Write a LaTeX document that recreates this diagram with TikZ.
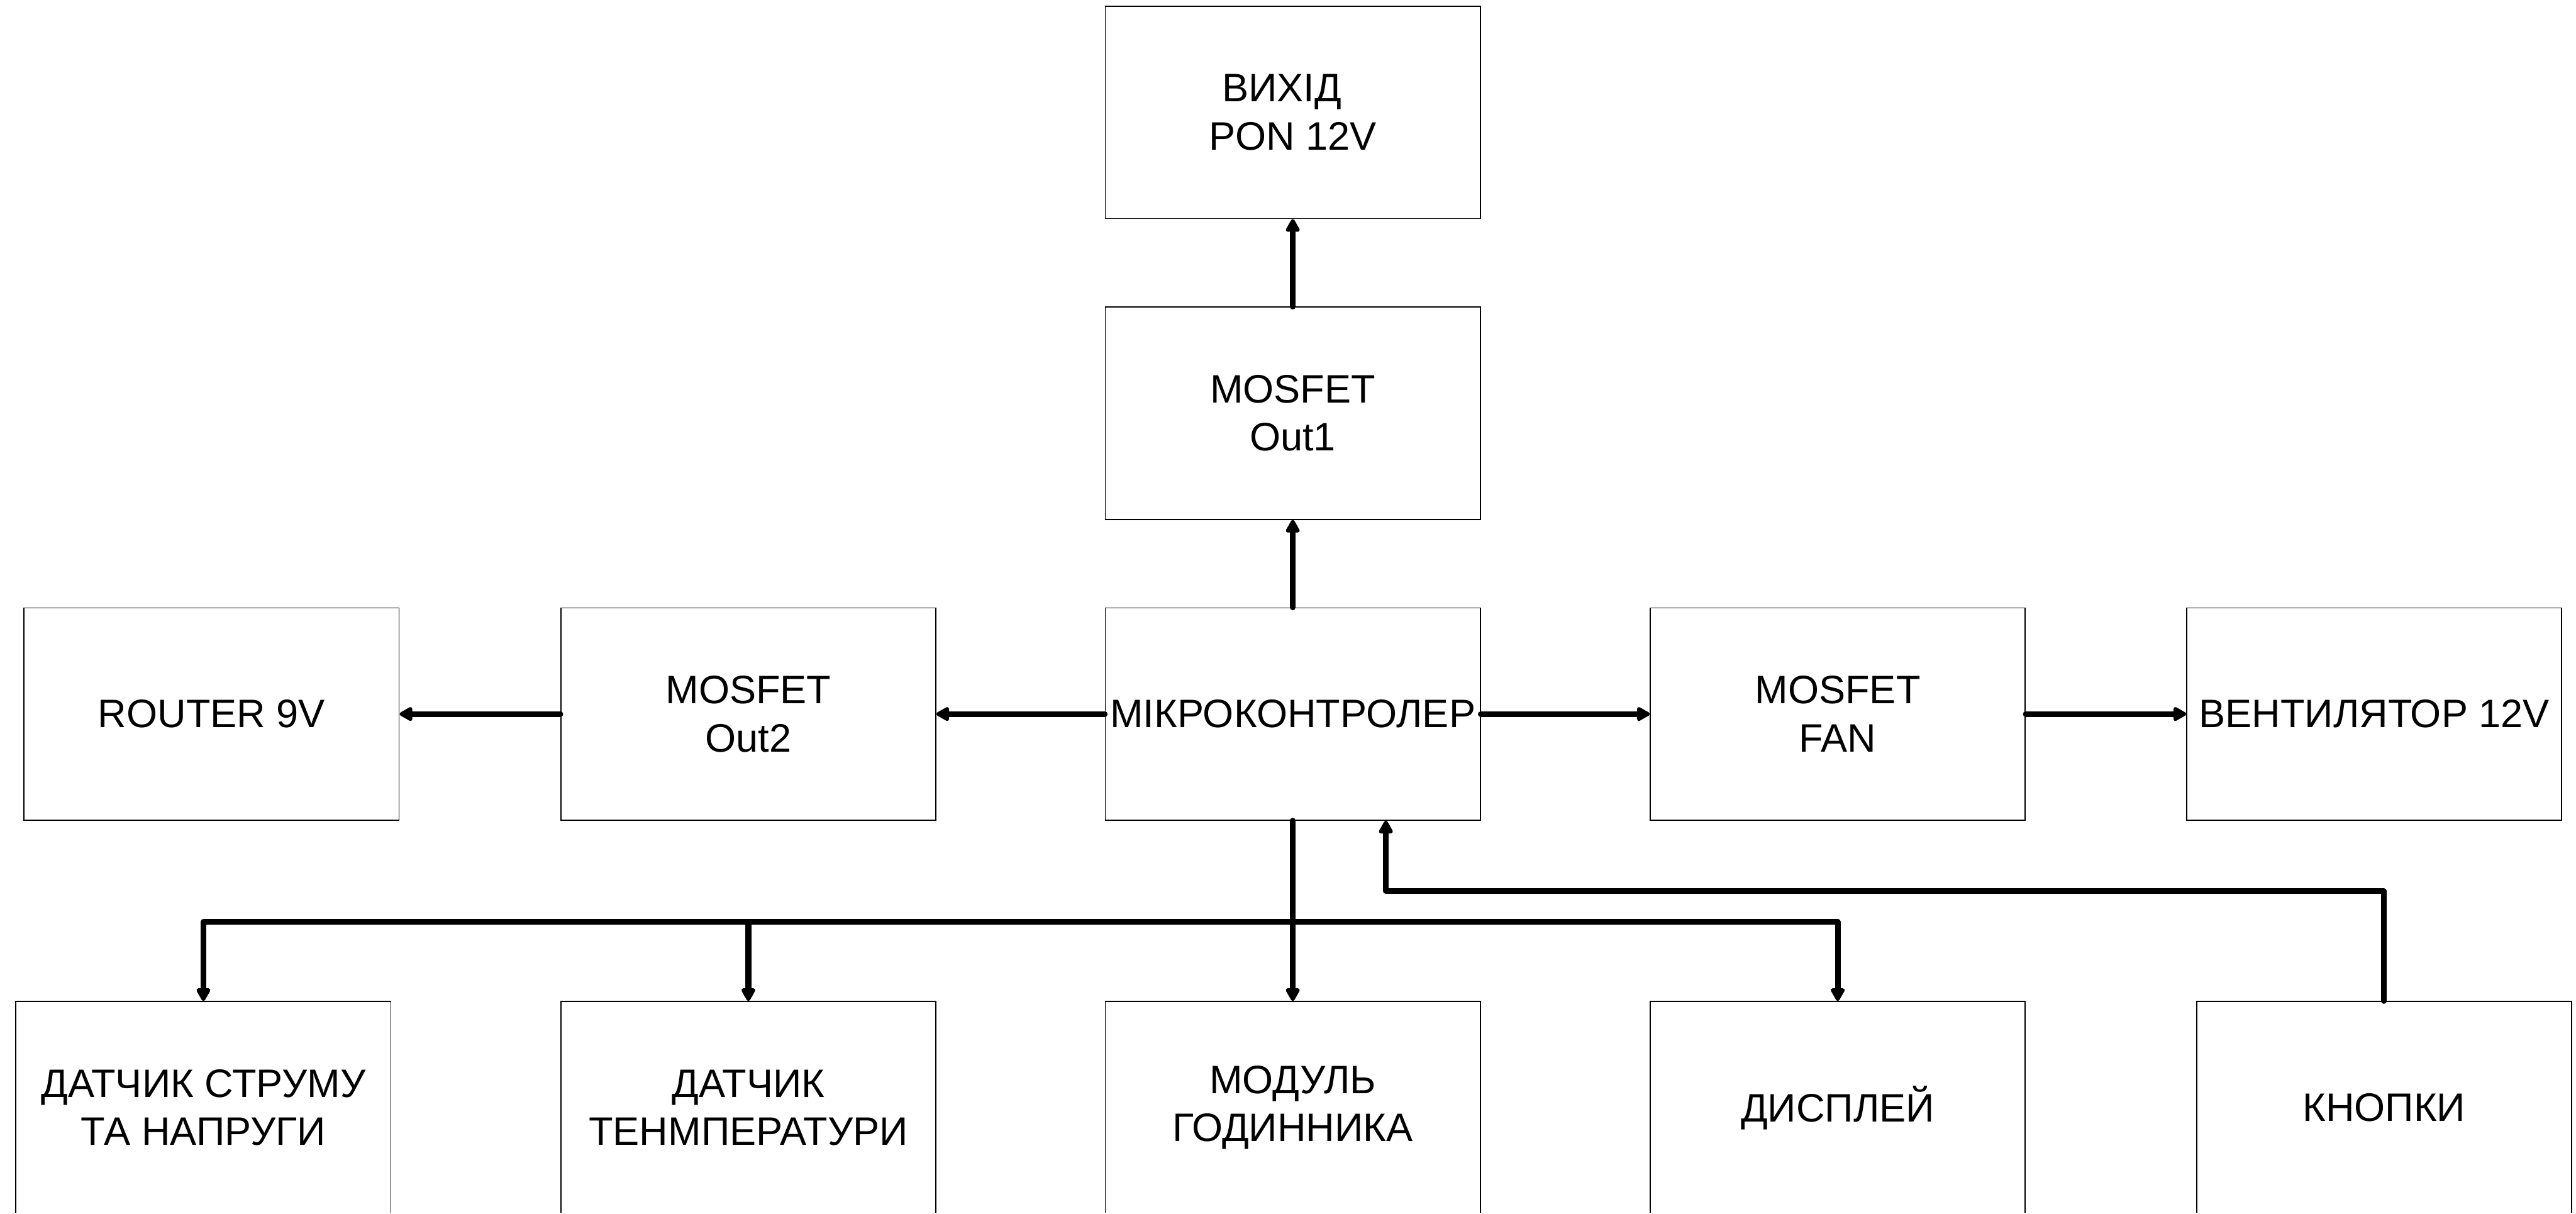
\documentclass[tikz,border=0pt]{standalone}
\usepackage{fontspec}
\setmainfont{Liberation Sans}
\usetikzlibrary{arrows.meta}
\begin{document}
\begin{tikzpicture}[
  blk/.style={draw, line width=0.6pt, minimum width=7.07cm, minimum height=4cm, inner sep=0pt, align=center,
    font=\fontsize{21.3}{25.8}\selectfont},
  wire/.style={line width=3.1pt, line cap=round, line join=round},
  arr/.style={wire, -{Triangle[length=0.28cm, width=0.29cm, round]}}
]
\useasboundingbox (0,0) rectangle (48.57,-22.88);
\clip (0,0) rectangle (48.57,-22.86);
% top column
\node[blk] (vyh) at (24.375,-2.12) {ВИХІД\hspace*{0.55em}\\PON 12V};
\node[blk] (out1) at (24.375,-7.79) {MOSFET\\Out1};
% middle row
\node[blk] (router) at (3.99,-13.46) {ROUTER 9V};
\node[blk] (out2) at (14.11,-13.46) {MOSFET\\Out2};
\node[blk] (mcu) at (24.375,-13.46) {МІКРОКОНТРОЛЕР};
\node[blk] (fan) at (34.65,-13.46) {MOSFET\\FAN};
\node[blk] (vent) at (44.765,-13.46) {ВЕНТИЛЯТОР 12V};
% bottom row
\node[blk] (dat1) at (3.835,-20.88) {ДАТЧИК СТРУМУ\\ТА НАПРУГИ};
\node[blk] (temp) at (14.11,-20.88) {ДАТЧИК\\ТЕНМПЕРАТУРИ};
\node[blk] (modul) at (24.375,-20.88) {МОДУЛЬ\\ГОДИННИКА};
\node[blk] (disp) at (34.65,-20.88) {ДИСПЛЕЙ};
\node[blk] (kn) at (44.95,-20.88) {КНОПКИ};
% connectors
\draw[arr] (out1.north) -- (vyh.south);
\draw[arr] (mcu.north) -- (out1.south);
\draw[arr] (mcu.west) -- (out2.east);
\draw[arr] (out2.west) -- (router.east);
\draw[arr] (mcu.east) -- (fan.west);
\draw[arr] (fan.east) -- (vent.west);
% bus
\coordinate (bus) at (24.375,-17.38);
\draw[arr] (mcu.south) -- (modul.north);
\draw[arr] (bus) -| (dat1.north);
\draw[arr] (bus) -| (disp.north);
\draw[arr] (temp.north |- bus) -- (temp.north);
% feedback from buttons
\coordinate (fb) at (26.13,-16.80);
\draw[arr] (kn.north) |- (fb) -- (fb |- mcu.south);
\end{tikzpicture}
\end{document}
